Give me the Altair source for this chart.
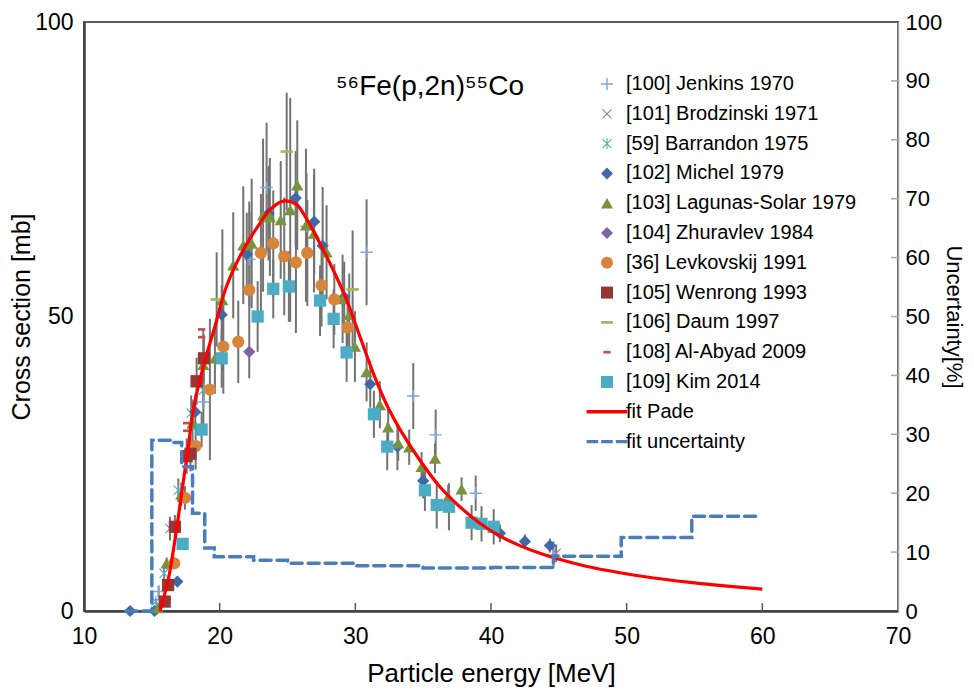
import altair as alt
import pandas as pd

FONT = "Liberation Sans"

# ---------------- data ----------------
names = ["[100] Jenkins 1970", "[101] Brodzinski 1971", "[59] Barrandon 1975",
         "[102] Michel 1979", "[103] Lagunas-Solar 1979", "[104] Zhuravlev 1984",
         "[36] Levkovskij 1991", "[105] Wenrong 1993", "[106] Daum 1997",
         "[108] Al-Abyad 2009", "[109] Kim 2014", "fit Pade", "fit uncertainty"]

jenkins_E = [15.5, 18.8, 22.2, 23.46, 26.4, 30.83, 34.27, 35.92, 38.87, 44.6]
jenkins_s = [3.3, 35.5, 59.7, 71.9, 65.3, 60.9, 36.5, 29.9, 20.0, 9.5]
jenkins_e = [1.0, 5.0, 8.0, 11.0, 9.0, 9.0, 5.6, 4.3, 3.0, 2.3]

brod_E = [44.8]
brod_s = [9.8]
brod_e = [1.5]

barr_E = [15.3, 15.9, 16.34, 16.95, 17.9, 18.8]
barr_s = [1.6, 6.4, 14.0, 20.5, 33.6, 37.5]
barr_e = [0.5, 1.0, 2.0, 2.0, 3.0, 3.0]

michel_E = [13.4, 15.2, 16.88, 18.2, 20.15, 22.0, 23.6, 25.6, 26.97, 27.59, 29.18,
            31.1, 33.1, 35.0, 40.66, 42.5, 44.34]
michel_s = [0, 0, 5.0, 33.8, 50.3, 60.6, 67.5, 70.1, 66.1, 62.0, 53.3,
            38.5, 27.9, 22.1, 13.2, 11.8, 11.1]
michel_e = [0, 0, 0.5, 3, 5, 7, 8, 8, 9, 10, 6, 4, 4, 3, 1.5, 1.2, 1.2]

lag_E = [15.45, 16.09, 17.17, 18.0, 18.79, 19.65, 20.2, 21.0, 21.74, 22.36, 23.2, 23.7,
         24.5, 25.2, 25.72, 26.36, 26.95, 27.88, 29.06, 29.55, 29.97, 30.83, 31.81,
         32.42, 33.16, 33.97, 34.88, 35.87, 36.85, 37.83]
lag_s = [0.5, 8.1, 19.8, 31.9, 41.8, 42.9, 52.8, 58.7, 62.1, 62.4, 67.2, 66.9,
         66.4, 68.1, 72.3, 65.5, 64.1, 60.9, 53.0, 50.3, 44.9, 40.6, 35.0,
         31.2, 28.5, 27.8, 24.5, 25.9, 19.4, 20.7]
lag_e = [0, 1, 2, 4, 6, 6, 12, 9, 10, 11, 13, 10, 10, 19, 11, 13, 10, 8, 7.5, 7, 6,
         5, 4, 3, 3, 3, 2.5, 2.5, 2, 2]

zhur_E = [22.18]
zhur_s = [44.0]
zhur_e = [0]

levk_E = [16.65, 17.44, 18.23, 19.28, 20.27, 21.37, 22.18, 23.04, 23.95, 24.76, 25.62,
          26.46, 27.51, 28.45, 29.43]
levk_s = [8.1, 19.2, 28.0, 37.6, 44.9, 45.7, 54.5, 60.8, 62.4, 60.2, 59.2,
          60.8, 55.3, 52.9, 48.1]
levk_e = [1, 2, 4, 12, 8, 7, 15, 10, 9, 10, 12, 9, 7, 6, 5]

wen_E = [15.95, 16.2, 16.7, 17.57, 17.85, 18.3, 18.84]
wen_s = [1.6, 4.4, 14.3, 26.3, 26.7, 39.0, 42.9]
wen_e = [0.5, 1, 2, 3, 3, 4, 4]

daum_E = [19.78, 24.94, 29.8]
daum_s = [52.9, 78.0, 54.6]
daum_e = [8, 10, 10]

abyad_E = [17.57, 17.57, 18.67, 18.67]
abyad_s = [31.9, 30.6, 47.8, 46.5]
abyad_e = [0, 0, 0, 0]

kim_E = [17.27, 18.67, 20.15, 22.8, 23.95, 25.1, 27.4, 28.4, 29.36, 31.37, 32.35,
         35.13, 36.0, 36.9, 38.57, 39.3, 40.2]
kim_s = [11.4, 30.8, 42.9, 50.0, 54.7, 55.1, 52.7, 49.6, 43.9, 33.4, 27.9,
         20.5, 18.0, 17.7, 15.0, 14.8, 14.3]
kim_e = [1, 3, 5, 6, 5, 6, 6, 5, 5, 4, 4, 3.5, 4, 4, 3, 3, 3]

fit_E = [15.6, 16.21, 16.7, 17.2, 17.69, 18.05, 18.79, 19.65, 20.5, 21.74, 22.73,
         23.7, 24.69, 25.67, 26.4, 27.39, 28.37, 29.36, 30.34, 31.32, 32.4, 33.3,
         34.76, 36.23, 37.7, 39.18, 40.66, 42.13, 43.6, 44.83, 47.0, 49.5, 52.0,
         54.5, 57.0, 60.0]
fit_s = [0, 5.3, 12.0, 20.0, 27.9, 34.1, 41.5, 48.3, 55.1, 61.3, 65.0,
         68.1, 69.6, 69.0, 66.6, 62.4, 57.9, 52.8, 46.6, 40.4, 34.6, 30.8,
         25.6, 21.1, 17.7, 14.9, 12.7, 11.1, 9.8, 8.9, 7.6, 6.5, 5.6,
         4.9, 4.3, 3.7]

unc_E = [13.1, 15.0, 16.5, 17.2, 18.0, 18.9, 19.6, 22.5, 25.0, 30.0, 35.0, 40.0,
         44.6, 49.6, 54.8, 59.8]
unc_u = [0, 29.0, 28.6, 24.5, 16.6, 10.7, 9.2, 8.6, 8.1, 7.7, 7.3, 7.4,
         9.3, 12.5, 16.1, 16.1]

x_ticks = [10, 20, 30, 40, 50, 60, 70]
y_left_ticks = [0, 50, 100]
y_right_ticks = [0, 10, 20, 30, 40, 50, 60, 70, 80, 90, 100]

TITLE = "\u2075\u2076Fe(p,2n)\u2075\u2075Co"

# ---------------- styles ----------------
colors = ["#7FA6D9", "#8C7DAA", "#5AAFC4", "#3E69A4", "#77933C", "#8064A2",
          "#D7853B", "#953735", "#9BBB59", "#C0504D", "#4BACC6", "#FF0000", "#4A7EBB"]

PLUS = "M-0.12,-1H0.12V-0.12H1V0.12H0.12V1H-0.12V0.12H-1V-0.12H-0.12Z"
XS = "M-0.68,-0.82L0.82,0.68L0.68,0.82L-0.82,-0.68ZM-0.82,0.68L0.68,-0.82L0.82,-0.68L-0.68,0.82Z"
ASTER = XS + "M-0.09,-0.95H0.09V0.95H-0.09Z"
DASH_L = "M-1,-0.22H1V0.22H-1Z"
DASH_S = "M-0.6,-0.22H0.6V0.22H-0.6Z"
LINE = "M-3.4,-0.28H3.4V0.28H-3.4Z"
DASHED = ("M-3.4,-0.28H-1.467V0.28H-3.4Z"
          "M-0.967,-0.28H0.967V0.28H-0.967Z"
          "M1.467,-0.28H3.4V0.28H1.467Z")
shapes = [PLUS, XS, ASTER, "diamond", "triangle-up", "diamond", "circle", "square",
          DASH_L, DASH_S, "square", LINE, DASHED]

# ---------------- tables ----------------
groups = [
    (names[0], jenkins_E, jenkins_s, jenkins_e),
    (names[1], brod_E, brod_s, brod_e),
    (names[2], barr_E, barr_s, barr_e),
    (names[3], michel_E, michel_s, michel_e),
    (names[4], lag_E, lag_s, lag_e),
    (names[5], zhur_E, zhur_s, zhur_e),
    (names[6], levk_E, levk_s, levk_e),
    (names[7], wen_E, wen_s, wen_e),
    (names[8], daum_E, daum_s, daum_e),
    (names[9], abyad_E, abyad_s, abyad_e),
    (names[10], kim_E, kim_s, kim_e),
]
rows = []
for i, (n, es, ss, errs) in enumerate(groups):
    for e, s, er in zip(es, ss, errs):
        rows.append({"series": n, "E": e, "sigma": s, "err": er, "k": i})
pts = pd.DataFrame(rows)
errs_df = pts[pts["err"] > 0]
fit_df = pd.DataFrame({"E": fit_E, "sigma": fit_s})
unc_df = pd.DataFrame({"E": unc_E, "u": unc_u})

W, H = 814, 589

xscale = alt.Scale(domain=[10, 70], nice=False, zero=False)
yscale = alt.Scale(domain=[0, 100], nice=False)

xaxis = alt.Axis(values=x_ticks, title="Particle energy [MeV]", tickSize=0,
                 labelPadding=14, titlePadding=12, labelFontSize=23, titleFontSize=26,
                 domainColor="#404040", domainWidth=2.5, labelFlush=False)
yaxis = alt.Axis(values=y_left_ticks, title="Cross section [mb]", tickSize=0,
                 labelPadding=11, titlePadding=0, labelFontSize=23, titleFontSize=25,
                 domainColor="#404040", domainWidth=2.5, labelFlush=False)


def X(field="E"):
    return alt.X(f"{field}:Q", scale=xscale, axis=xaxis)


legend = alt.Legend(orient="none", legendX=513, legendY=52, title=None,
                    labelFont=FONT, labelFontSize=20, labelColor="#000000",
                    symbolSize=144, labelOffset=9, rowPadding=9.8, padding=0,
                    symbolStrokeWidth=0, symbolOpacity=1, labelLimit=400)

errbars = alt.Chart(errs_df).mark_rule(color="#737373", strokeWidth=2).transform_calculate(
    lo="datum.sigma - datum.err", hi="datum.sigma + datum.err"
).encode(x=X(), y=alt.Y("lo:Q", scale=yscale, axis=yaxis), y2="hi:Q")

points = alt.Chart(pts).mark_point(filled=True, opacity=1, size=150, strokeWidth=0).encode(
    x=X(), y=alt.Y("sigma:Q", scale=yscale, axis=yaxis),
    color=alt.Color("series:N", scale=alt.Scale(domain=names, range=colors), legend=legend),
    shape=alt.Shape("series:N", scale=alt.Scale(domain=names, range=shapes), legend=legend),
    order=alt.Order("k:Q"),
)

fit = alt.Chart(fit_df).mark_line(color="#FF0000", strokeWidth=3.2, interpolate="catmull-rom").encode(
    x=X(), y=alt.Y("sigma:Q", scale=yscale, axis=yaxis)
)

xt = pd.DataFrame({"t": x_ticks[1:-1]})
xtick_layer = alt.Chart(xt).mark_rule(color="#595959", strokeWidth=1.5).encode(
    x=X("t"), y=alt.value(H), y2=alt.value(H - 8)
)
rt = pd.DataFrame({"t": y_right_ticks[1:-1]})
rtick_layer = alt.Chart(rt).mark_rule(color="#A6A6A6", strokeWidth=1.5).encode(
    y=alt.Y("t:Q", scale=yscale, axis=yaxis), x=alt.value(W), x2=alt.value(W - 7)
)

title_layer = alt.Chart(pd.DataFrame({"t": [TITLE]})).mark_text(
    font=FONT, fontSize=28, align="center", baseline="middle", color="#000000"
).encode(text="t:N", x=alt.value(346), y=alt.value(65))

left = alt.layer(errbars, points, fit, xtick_layer, rtick_layer, title_layer)

unc = alt.Chart(unc_df).mark_line(color="#4A7EBB", strokeWidth=3.5, strokeDash=[11, 6],
                                  strokeCap="round", interpolate="step-after").encode(
    x=X(),
    y=alt.Y("u:Q", scale=yscale,
            axis=alt.Axis(orient="right", values=y_right_ticks, title="Uncertainty[%]",
                          tickSize=0, labelPadding=7, titlePadding=0, labelFontSize=22,
                          titleFontSize=22, domainColor="#A6A6A6", domainWidth=1.5,
                          labelFlush=False)),
)

chart = alt.layer(left, unc).resolve_scale(y="independent").properties(
    width=W, height=H,
    autosize=alt.AutoSizeParams(type="none"),
    padding={"left": 76, "top": 14, "right": 68, "bottom": 82},
).configure_view(stroke="#595959", strokeWidth=2).configure_axis(
    grid=False, labelFont=FONT, titleFont=FONT, labelColor="#000000", titleColor="#000000",
    titleFontWeight="normal"
).configure_text(font=FONT)

chart.save("out.html", embed_options={"renderer": "svg", "actions": False})
